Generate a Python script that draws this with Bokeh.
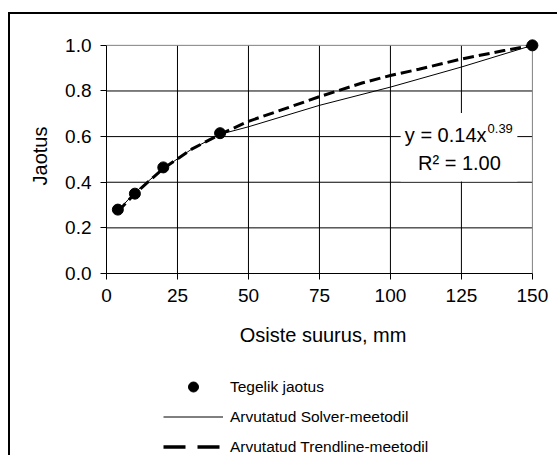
from bokeh.plotting import figure
from bokeh.layouts import column
from bokeh.models import (Range1d, Label, BoxAnnotation, Legend, LegendItem,
                          FixedTicker, CustomJSTickFormatter)
from bokeh.embed import file_html
from bokeh.resources import INLINE

# ---- data ----
size_mm = [4, 10, 20, 40, 150]
actual = [0.28, 0.35, 0.465, 0.615, 1.0]

solver_x = [4, 10, 20, 30, 40, 50, 75, 100, 125, 150]
solver_y = [0.275, 0.355, 0.46, 0.545, 0.61, 0.643, 0.737, 0.817, 0.905, 1.0]

trend_x = [4, 10, 20, 30, 40, 50, 60, 75, 90, 100, 110, 125, 140, 150]
trend_y = [0.272, 0.35, 0.46, 0.545, 0.61, 0.667, 0.71, 0.775, 0.835, 0.868, 0.895, 0.94, 0.977, 1.0]

x_ticks = [0, 25, 50, 75, 100, 125, 150]
y_ticks = [0.0, 0.2, 0.4, 0.6, 0.8, 1.0]

x_title = "Osiste suurus, mm"
y_title = "Jaotus"
legend_labels = ["Tegelik jaotus", "Arvutatud Solver-meetodil", "Arvutatud Trendline-meetodil"]
eq_main = "y = 0.14x"
eq_exp = "0.39"
r2_text = "R\u00b2 = 1.00"

FONT = "Liberation Sans"

# ---------------- main chart ----------------
p = figure(width=547, height=346, frame_width=433, frame_height=235,
           x_range=Range1d(0, 152.5), y_range=Range1d(0, 1.03),
           output_backend="svg", toolbar_location=None,
           min_border_left=96, min_border_right=18,
           min_border_top=24, min_border_bottom=87)
p.outline_line_color = None
p.background_fill_color = "white"
p.border_fill_color = "white"
p.xgrid.visible = False
p.ygrid.visible = False

for ax, ticks in ((p.xaxis[0], x_ticks), (p.yaxis[0], y_ticks)):
    ax.ticker = FixedTicker(ticks=ticks)
    ax.bounds = (ticks[0], ticks[-1])
    ax.minor_tick_line_color = None
    ax.major_tick_in = 0
    ax.major_tick_out = 6
    ax.major_tick_line_color = "black"
    ax.axis_line_color = "black"
    ax.axis_line_width = 1
    ax.major_label_text_font = FONT
    ax.major_label_text_font_size = "19px"
    ax.major_label_text_color = "black"
    ax.major_label_standoff = 9
    ax.axis_label_text_font = FONT
    ax.axis_label_text_font_size = "20px"
    ax.axis_label_text_font_style = "normal"
    ax.axis_label_text_color = "black"
p.xaxis[0].axis_label = x_title
p.yaxis[0].axis_label = y_title
p.xaxis[0].axis_label_standoff = 19
p.yaxis[0].axis_label_standoff = 11
p.yaxis[0].formatter = CustomJSTickFormatter(code="return tick.toFixed(1)")

# gridlines (black inside, grey plot-area edge at top/right)
gx = x_ticks[1:-1]
p.segment(x0=gx, y0=[y_ticks[0]] * len(gx), x1=gx, y1=[y_ticks[-1]] * len(gx),
          line_color="black", line_width=1)
gy = y_ticks[1:-1]
p.segment(x0=[x_ticks[0]] * len(gy), y0=gy, x1=[x_ticks[-1]] * len(gy), y1=gy,
          line_color="black", line_width=1)
p.segment(x0=[x_ticks[0], x_ticks[-1]], y0=[y_ticks[-1], y_ticks[0]],
          x1=[x_ticks[-1], x_ticks[-1]], y1=[y_ticks[-1], y_ticks[-1]],
          line_color="#808080", line_width=1)

# series
p.line(solver_x, solver_y, line_color="black", line_width=1)
p.line(trend_x, trend_y, line_color="black", line_width=3, line_dash="11 5")
p.scatter(size_mm, actual, size=11, color="black")

# equation box
p.add_layout(BoxAnnotation(left=103.6, right=144.7, bottom=0.403, top=0.703,
                           fill_color="white", fill_alpha=1, line_color=None))
p.add_layout(Label(x=133.85, y=0.605, text=eq_main, text_align="right",
                   text_baseline="middle", text_font=FONT, text_font_size="20px",
                   text_color="black"))
p.add_layout(Label(x=134.2, y=0.636, text=eq_exp, text_align="left",
                   text_baseline="middle", text_font=FONT, text_font_size="13px",
                   text_color="black"))
p.add_layout(Label(x=124.3, y=0.486, text=r2_text, text_align="center",
                   text_baseline="middle", text_font=FONT, text_font_size="20px",
                   text_color="black"))

# ---------------- legend strip (frame aligned with the chart's frame) ----------------
lg = figure(width=547, height=95, frame_width=433, frame_height=95,
            x_range=Range1d(0, 1), y_range=Range1d(0, 1),
            output_backend="svg", toolbar_location=None,
            x_axis_type=None, y_axis_type=None,
            min_border_left=96, min_border_right=18,
            min_border_top=0, min_border_bottom=0)
lg.outline_line_color = None
lg.background_fill_color = "white"
lg.border_fill_color = "white"
lg.xgrid.visible = False
lg.ygrid.visible = False
# key glyphs: the same series, lying outside this strip's ranges (not drawn)
k_pts = lg.scatter(size_mm, actual, size=10, color="black")
k_sol = lg.line(solver_x, solver_y, line_color="black", line_width=1)
k_tr = lg.line(trend_x, trend_y, line_color="black", line_width=3.5, line_dash="22 12")
legend = Legend(items=[LegendItem(label=legend_labels[0], renderers=[k_pts]),
                       LegendItem(label=legend_labels[1], renderers=[k_sol]),
                       LegendItem(label=legend_labels[2], renderers=[k_tr])],
                location=(57, -4), orientation="vertical",
                glyph_width=60, glyph_height=25, label_height=25, spacing=5,
                padding=0, margin=0, label_standoff=7,
                label_text_font=FONT, label_text_font_size="15.5px",
                label_text_color="black",
                border_line_color=None, background_fill_alpha=0)
lg.add_layout(legend, "center")

layout = column(p, lg, spacing=0)
layout.styles = {"border-left": "2px solid black", "border-top": "2px solid black",
                 "margin-left": "8px", "margin-top": "12px"}

open("out.html", "w").write(file_html(layout, INLINE))
